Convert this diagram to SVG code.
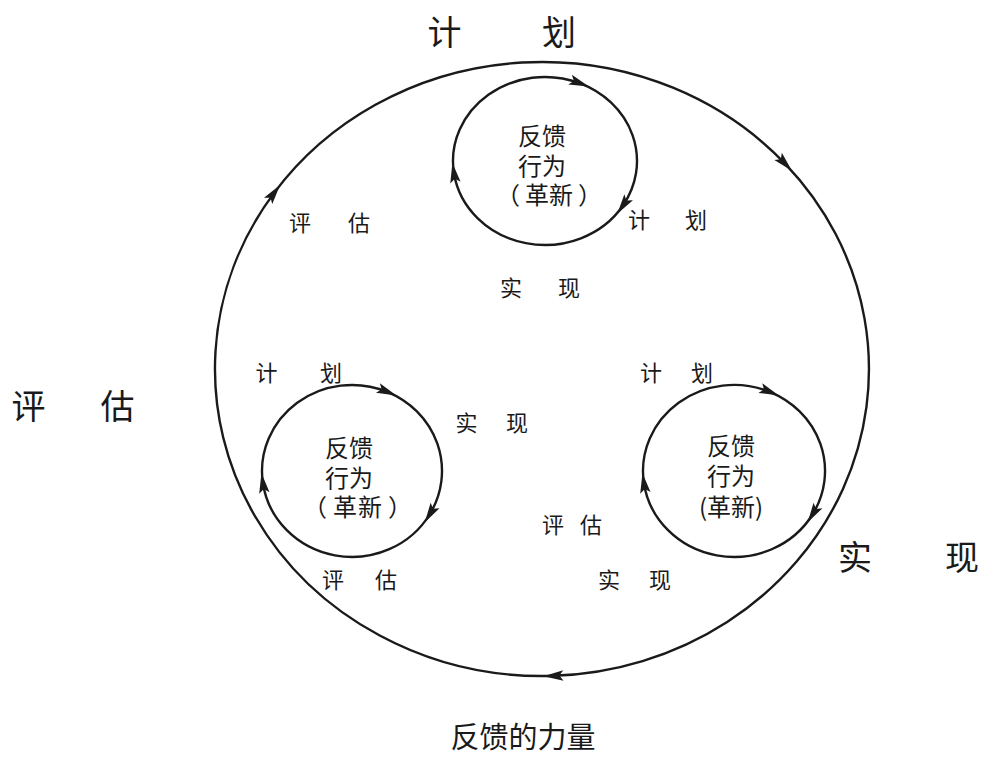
<svg xmlns="http://www.w3.org/2000/svg" width="984" height="758" viewBox="0 0 984 758">
<style>
text{font-family:"Noto Sans CJK SC","Noto Sans",sans-serif;fill:#1a1a1a;text-anchor:middle}
.big{font-size:34px}
.sm{font-size:22px}
.in{font-size:24px}
.ttl{font-size:29px}
.loop{fill:none;stroke:#1a1a1a;stroke-width:2.4;marker-start:url(#arr);marker-mid:url(#arr)}
</style>
<defs>
<marker id="arr" viewBox="-11 -6 22 12" markerWidth="22" markerHeight="12" refX="0" refY="0" orient="auto" markerUnits="userSpaceOnUse">
<path d="M-10,-5.2 L10,0 L-10,5.2 L-6,0 Z" fill="#1a1a1a"/>
</marker>
</defs>
<rect width="984" height="758" fill="#ffffff"/>

<g id="connectors">
<path class="loop" d="M274.1,192.9 A327,307 0 0 1 785.0,163.6 A327,307 0 0 1 553.4,675.8 A327,307 0 0 1 274.1,192.9"/>
</g>

<g id="outer-labels">
<text class="big" x="444.5 559" y="45">计划</text>
<text class="big" x="28.5 117.5" y="419">评估</text>
<text class="big" x="855 962" y="570">实现</text>
<text class="ttl" x="523" y="748">反馈的力量</text>
</g>

<g id="node-top">
<path class="loop" d="M579.5,83.1 A92,84 0 0 1 623,205.5 A92,84 0 0 1 453.9,172.7 A92,84 0 0 1 579.5,83.1"/>
<text class="in"><tspan x="542" y="145">反馈</tspan><tspan x="542" y="175">行为</tspan><tspan x="508 537 561 590" y="204">（革新）</tspan></text>
<text class="sm" x="300 359" y="231">评估</text>
<text class="sm" x="639 696" y="228">计划</text>
<text class="sm" x="511 569" y="296">实现</text>
</g>

<g id="node-left">
<path class="loop" d="M387.2,391.8 A90,86 0 0 1 429.9,514 A90,86 0 0 1 262.9,483 A90,86 0 0 1 387.2,391.8"/>
<text class="in"><tspan x="349" y="457">反馈</tspan><tspan x="349" y="487">行为</tspan><tspan x="315 345 370 400" y="516">（革新）</tspan></text>
<text class="sm" x="266.5 331" y="381">计划</text>
<text class="sm" x="466.5 517" y="431">实现</text>
<text class="sm" x="333 386" y="588">评估</text>
</g>

<g id="node-right">
<path class="loop" d="M769.6,391.8 A91,86 0 0 1 812.8,514 A91,86 0 0 1 643.9,483 A91,86 0 0 1 769.6,391.8"/>
<text class="in"><tspan x="731" y="455">反馈</tspan><tspan x="731" y="485">行为</tspan><tspan x="731" y="516">(革新)</tspan></text>
<text class="sm" x="651 702" y="381">计划</text>
<text class="sm" x="553 591" y="533">评估</text>
<text class="sm" x="609 660" y="588">实现</text>
</g>
</svg>
